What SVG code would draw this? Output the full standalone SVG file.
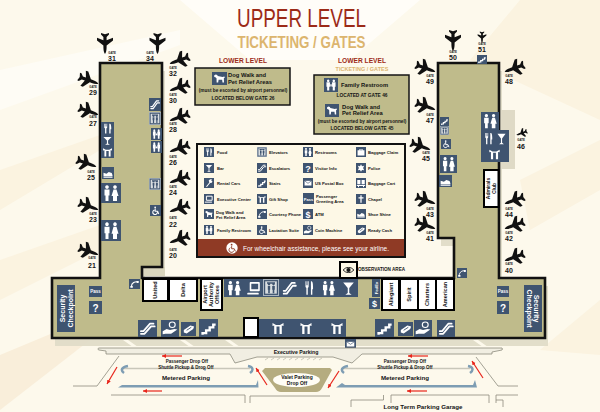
<svg xmlns="http://www.w3.org/2000/svg" width="600" height="412" viewBox="0 0 600 412">
<style>
text{font-family:"Liberation Sans",Arial,sans-serif;font-weight:700;fill:#141414}
.gl{font-size:2.8px;text-anchor:middle}
.gn{font-size:7px;text-anchor:middle}
.lg{font-size:4.2px}
.c{text-anchor:middle}
.air{font-size:5.6px;text-anchor:middle}
.sec{font-size:7px;fill:#fff;text-anchor:middle}
.park{font-size:4.5px;text-anchor:middle}
.met{font-size:6.2px;text-anchor:middle}
.ll{font-size:7.5px;fill:#9c2a17;text-anchor:middle}
.box{fill:#bfbb8b;stroke:#141414;stroke-width:1.5}
.wb{fill:#fff;stroke:#000;stroke-width:2}
.blue{fill:#3f5470}
.road{fill:none;stroke:#8d8b7d;stroke-width:.8}
.red{stroke:#e8261c;stroke-width:1.2;fill:none;marker-end:url(#ah)}
.w{fill:#fff}
.ws{fill:none;stroke:#fff;stroke-width:1.6;stroke-linejoin:round;stroke-linecap:round}
</style>
<defs>
<marker id="ah" markerWidth="5" markerHeight="5" refX="4" refY="2" orient="auto" markerUnits="userSpaceOnUse"><path d="M0,0L4,2L0,4Z" fill="#e8261c"/></marker>
<g id="plane"><path d="M0,11C-1.1,9.5-1.6,7-1.6,4.5L-1.6,2.5L-8,-2.6L-8,-5.2L-1.6,-2.8L-1.6,-6L-4,-8.4L-4,-10L0,-8.8L4,-10L4,-8.4L1.6,-6L1.6,-2.8L8,-5.2L8,-2.6L1.6,2.5L1.6,4.5C1.6,7 1.1,9.5 0,11Z" fill="#111"/></g>
<symbol id="food" viewBox="0 0 16 16" preserveAspectRatio="none"><rect width="16" height="16" class="blue"/><path class="w" d="M4,2h.8v3.5h.6V2h.8v3.5h.6V2h.8v5l-1,1v6h-1.6V8l-1-1zM11,2c1,0 1.6,2 1.6,5v2h-.8v5H10.2V2z"/></symbol>
<symbol id="bar" viewBox="0 0 16 16" preserveAspectRatio="none"><rect width="16" height="16" class="blue"/><path class="w" d="M3,3H13L8.7,8V12.5L11,14H5L7.3,12.5V8Z"/></symbol>
<symbol id="gift" viewBox="0 0 16 16" preserveAspectRatio="none"><rect width="16" height="16" class="blue"/><path class="w" d="M2.5,3L6,5H10L13.5,3V6L11.8,5.6V14H9.5V6.5H6.5V14H4.2V5.6L2.5,6Z"/></symbol>
<symbol id="esc" viewBox="0 0 16 16" preserveAspectRatio="none"><rect width="16" height="16" class="blue"/><path class="ws" d="M2.5,13H5.5L11,6H14M2.5,10.5H4.5L10,3.5H13"/></symbol>
<symbol id="stairs" viewBox="0 0 16 16" preserveAspectRatio="none"><rect width="16" height="16" class="blue"/><path class="w" d="M2,14V11.5H5V9H8V6.5H11V4H14V6H13V8.5H10V11H7V13.5H4V14Z"/></symbol>
<symbol id="elev" viewBox="0 0 16 16" preserveAspectRatio="none"><rect width="16" height="16" fill="#a9b4bf"/><rect x="1" y="1" width="14" height="14" class="blue"/><rect x="2.2" y="2.2" width="11.6" height="11.6" fill="#d8dde0"/><path class="blue" d="M4,3h8v1.5H4zM6,6a1.2,1.2 0 1 1 .01,0zM4.8,6.5h2.4v3.5H6.8v3.5H5.2V10H4.8zM10.5,6a1.2,1.2 0 1 1 .01,0zM9.2,6.5h2.6v3.5h-.5v3.5H9.7V10h-.5z"/></symbol>
<symbol id="rr" viewBox="0 0 20 20" preserveAspectRatio="none"><rect width="20" height="20" class="blue"/><path class="w" d="M6,2.2a1.8,1.8 0 1 1-.01,0zM3.5,6.5h5v6h-1V18h-3V12.5h-1zM14,2.2a1.8,1.8 0 1 1-.01,0zM12.5,6.5h3l2,6.5h-1.5v5h-4v-5h-1.5z"/></symbol>
<symbol id="fam" viewBox="0 0 20 20" preserveAspectRatio="none"><rect width="20" height="20" class="blue"/><path class="w" d="M6,2.2a1.8,1.8 0 1 1-.01,0zM3.5,6h5v6.5h-1V18h-3V12.5h-1zM14,2.2a1.8,1.8 0 1 1-.01,0zM11.5,6h5v6.5h-1V18h-3V12.5h-1zM9,9h2v3h-2z"/></symbol>
<symbol id="dog" viewBox="0 0 20 20" preserveAspectRatio="none"><rect width="20" height="20" class="blue"/><path class="w" d="M3,5L5,4L7,4.5L7.6,6L14,7.5L16.5,7L17,9L15.8,9.5L16,16H14L13.5,12H8.8L8.2,16H6.2L6,9.5L4.6,8L3,7.5Z"/></symbol>
<symbol id="wheel" viewBox="0 0 16 16" preserveAspectRatio="none"><rect width="16" height="16" class="blue"/><circle cx="7.5" cy="3.4" r="1.3" class="w"/><path class="ws" d="M7.5,5.5V9H11L12.5,12.5M5.8,7.6a3.3,3.3 0 1 0 4.7,3.8" stroke-width="1.2"/></symbol>
<symbol id="wheelw" viewBox="0 0 16 16"><circle cx="8" cy="8" r="7.6" fill="#fff"/><circle cx="7.5" cy="3.6" r="1.2" fill="#8f3a25"/><path fill="none" stroke="#8f3a25" stroke-width="1.2" d="M7.5,5.5V9H11L12.5,12.5M5.8,7.6a3.3,3.3 0 1 0 4.7,3.8"/></symbol>
<symbol id="shoe" viewBox="0 0 16 16" preserveAspectRatio="none"><rect width="16" height="16" class="blue"/><path class="w" d="M2,10V7.5L6,9L9,6.5L13,8L14,11V12.5H2ZM2,13.5H14V14.5H2Z"/></symbol>
<symbol id="phone" viewBox="0 0 16 16" preserveAspectRatio="none"><rect width="16" height="16" class="blue"/><path class="ws" d="M3.5,12C3.5,6 9,3.5 13,4.5" stroke-width="2.2"/><path class="w" d="M2,11h3.5v3H2zM11,3h3v3.5h-3z"/></symbol>
<symbol id="cash" viewBox="0 0 16 16" preserveAspectRatio="none"><rect width="16" height="16" class="blue"/><path class="w" d="M3,9L10,4L14,5L13,8L6,13L3,12Z"/><path fill="none" stroke="#3f5470" d="M6,9.5L11,6"/></symbol>
<symbol id="coin" viewBox="0 0 16 16" preserveAspectRatio="none"><rect width="16" height="16" class="blue"/><circle cx="10" cy="4.5" r="2.6" fill="none" stroke="#fff"/><path class="w" d="M1.5,10.5L5,8.5L8,9.5L12,8.5L14.5,9L9,13H4L1.5,13.5Z"/></symbol>
<symbol id="car" viewBox="0 0 16 16" preserveAspectRatio="none"><rect width="16" height="16" class="blue"/><path class="w" d="M3,14L8.5,7L7.5,4L10,2L13,2.5L11.5,4.5L13.5,5L12.5,7.5L9.8,8L5,14Z"/></symbol>
<symbol id="post" viewBox="0 0 16 16" preserveAspectRatio="none"><rect width="16" height="16" class="blue"/><rect x="2.5" y="4.5" width="11" height="7.5" class="w"/><path d="M2.5,4.5L8,8.5L13.5,4.5" fill="none" stroke="#3f5470"/></symbol>
<symbol id="bag" viewBox="0 0 16 16" preserveAspectRatio="none"><rect width="16" height="16" class="blue"/><path class="w" d="M2.5,5H5.5V3H10.5V5H13.5V13.5H2.5ZM6.5,4V5H9.5V4Z"/></symbol>
<symbol id="police" viewBox="0 0 16 16" preserveAspectRatio="none"><rect width="16" height="16" class="blue"/><path class="w" d="M8,2L9.6,5L13,4.5L11.4,8L13,11.5L9.6,11L8,14L6.4,11L3,11.5L4.6,8L3,4.5L6.4,5Z"/></symbol>
<symbol id="cart" viewBox="0 0 16 16" preserveAspectRatio="none"><rect width="16" height="16" class="blue"/><path class="w" d="M2,3H7V10H2ZM9,3H14V10H9Z"/><path class="ws" d="M2,12H14M4,14V12M12,14V12" stroke-width="1"/></symbol>
<symbol id="chapel" viewBox="0 0 16 16" preserveAspectRatio="none"><rect width="16" height="16" class="blue"/><path class="w" d="M7,2H9V5H12V7H9V14H7V7H4V5H7Z"/></symbol>
<symbol id="comp" viewBox="0 0 16 16" preserveAspectRatio="none"><rect width="16" height="16" class="blue"/><path class="ws" d="M4.5,3.5H13V10H4.5ZM2,13H12" stroke-width="1.2"/></symbol>
<symbol id="eye" viewBox="0 0 16 16"><path d="M1,8C4,3.5 12,3.5 15,8C12,12.5 4,12.5 1,8Z" fill="none" stroke="#111" stroke-width="1.2"/><circle cx="8" cy="8" r="2.8" fill="#111"/></symbol>
</defs>

<g id="background">
<rect width="600" height="412" fill="#fdf9ec"/>
<path d="M600,0L600,120L470,60L520,0Z" fill="#fbf3e0"/>
<path d="M0,70L180,30L180,45L0,110Z" fill="#fefcf5"/>
<path d="M0,170L100,135V150L0,210Z" fill="#fbf3e0"/>
<path d="M0,260L100,225V250L0,300Z" fill="#fbf3e0"/>
<path d="M0,355L60,330L90,340L0,410Z" fill="#f9eeda"/>
<path d="M180,0H420L350,60H250Z" fill="#fffdf8"/>
<path d="M600,140L520,180L530,230L600,190Z" fill="#fbf3e0"/>
<path d="M600,300L540,350L600,355Z" fill="#fbf3e0"/>
</g>

<g id="title">
<text x="301.500" y="27" class="c" textLength="129" lengthAdjust="spacingAndGlyphs" style="font-weight:400;font-size:26px;fill:#9c2a17">UPPER LEVEL</text>
<text x="301.500" y="48" class="c" textLength="128" lengthAdjust="spacingAndGlyphs" style="font-size:17px;fill:#dcb56e">TICKETING / GATES</text>
</g>

<g id="terminal">
<path transform="translate(3,8)" d="M100,63H162V267H142V278H454V238H438V63H499V278H545V338H52V278H100Z" fill="#dfdac6" opacity=".9"/>
<path d="M143,267H165V276H143Z" fill="#d9d5bd"/>
<path d="M499,110H515V169H499Z" fill="#dfdac6"/>
<path d="M100,63H162V267H142V278H454V238H438V63H499V278H545V338H52V278H100Z" fill="#bfbb8b" stroke="#111" stroke-width="2.6"/>
<path d="M123,340H128L138,347H133ZM180,340H185L195,347H190ZM225,340H230L240,347H235ZM352,340H356L350,347ZM473,340H478L488,347H483Z" fill="#fdf9ec"/>
</g>

<g id="observation-area">
<rect x="340" y="262" width="17" height="16" fill="#fdf8e6" stroke="#000" stroke-width="2"/>
<use href="#eye" x="342" y="264" width="13" height="12"/>
<text x="358" y="271" style="font-size:4.6px">OBSERVATION AREA</text>
</g>

<g id="legend">
<rect x="197" y="144" width="208" height="113" fill="#fdf8e6" stroke="#111" stroke-width="2"/>
<rect x="198" y="239" width="206" height="17" fill="#8f3a25"/>
<use href="#wheelw" x="226" y="242" width="12" height="12"/>
<text x="243" y="250.500" style="font-size:7px;fill:#fff;font-weight:400" textLength="146" lengthAdjust="spacingAndGlyphs">For wheelchair assistance, please see your airline.</text>
<use href="#food" x="204" y="147" width="10" height="10"/><text x="217" y="154" class="lg">Food</text>
<use href="#bar" x="204" y="163" width="10" height="10"/><text x="217" y="170" class="lg">Bar</text>
<use href="#car" x="204" y="178" width="10" height="10"/><text x="217" y="185" class="lg">Rental Cars</text>
<use href="#comp" x="204" y="194" width="10" height="10"/><text x="217" y="201" class="lg">Executive Center</text>
<use href="#dog" x="204" y="209" width="10" height="10"/><text x="216" y="213.500" class="lg">Dog Walk and</text><text x="216" y="218.500" class="lg">Pet Relief Area</text>
<use href="#fam" x="204" y="225" width="10" height="10"/><text x="217" y="232" class="lg">Family Restroom</text>
<use href="#elev" x="257" y="147" width="10" height="10"/><text x="269" y="154" class="lg">Elevators</text>
<use href="#esc" x="257" y="163" width="10" height="10"/><text x="269" y="170" class="lg">Escalators</text>
<use href="#stairs" x="257" y="178" width="10" height="10"/><text x="269" y="185" class="lg">Stairs</text>
<use href="#gift" x="257" y="194" width="10" height="10"/><text x="269" y="201" class="lg">Gift Shop</text>
<use href="#phone" x="257" y="209" width="10" height="10"/><text x="269" y="216" class="lg">Courtesy Phone</text>
<use href="#wheel" x="257" y="225" width="10" height="10"/><text x="269" y="232" class="lg">Lactation Suite</text>
<use href="#rr" x="303" y="147" width="10" height="10"/><text x="315" y="154" class="lg">Restrooms</text>
<rect x="303" y="163" width="10" height="10" class="blue"/><text x="308" y="171.500" class="c" style="font-size:9px;fill:#fff">?</text><text x="315" y="170" class="lg">Visitor Info</text>
<use href="#post" x="303" y="178" width="10" height="10"/><text x="315" y="185" class="lg">US Postal Box</text>
<rect x="303" y="193" width="11" height="11" class="blue"/><text x="308.500" y="200.500" class="c" style="font-size:4px;fill:#fff">Pass</text><text x="316" y="197.500" class="lg">Passenger</text><text x="316" y="202.500" class="lg">Greeting Area</text>
<rect x="303" y="209" width="10" height="10" class="blue"/><text x="308" y="217.500" class="c" style="font-size:9px;fill:#fff">$</text><text x="315" y="216" class="lg">ATM</text>
<use href="#coin" x="303" y="225" width="10" height="10"/><text x="315" y="232" class="lg">Coin Machine</text>
<use href="#bag" x="356" y="147" width="10" height="10"/><text x="368" y="154" class="lg">Baggage Claim</text>
<use href="#police" x="356" y="163" width="10" height="10"/><text x="368" y="170" class="lg">Police</text>
<use href="#cart" x="356" y="178" width="10" height="10"/><text x="368" y="185" class="lg">Baggage Cart</text>
<use href="#chapel" x="356" y="194" width="10" height="10"/><text x="368" y="201" class="lg">Chapel</text>
<use href="#shoe" x="356" y="209" width="10" height="10"/><text x="368" y="216" class="lg">Shoe Shine</text>
<use href="#cash" x="356" y="225" width="10" height="10"/><text x="368" y="232" class="lg">Ready Cash</text>
</g>

<g id="lower-level-left">
<text x="243" y="63" class="ll" textLength="48" lengthAdjust="spacingAndGlyphs">LOWER LEVEL</text>
<rect x="195" y="68" width="95" height="37" class="box"/>
<use href="#dog" x="212" y="72" width="15" height="13"/>
<text x="228" y="77" style="font-size:5.800px">Dog Walk and</text>
<text x="228" y="84" style="font-size:5.800px">Pet Relief Areas</text>
<text x="243" y="91.500" class="c" style="font-size:4.700px">(must be escorted by airport personnel)</text>
<text x="243" y="100" class="c" style="font-size:4.800px">LOCATED BELOW GATE 26</text>
</g>

<g id="lower-level-right">
<text x="362" y="63" class="ll" textLength="48" lengthAdjust="spacingAndGlyphs">LOWER LEVEL</text>
<text x="362" y="71" class="c" style="font-size:5.500px;fill:#dcb56e">TICKETING / GATES</text>
<rect x="314" y="75" width="95" height="59" class="box"/>
<use href="#fam" x="324" y="78" width="14" height="14"/>
<text x="341" y="87" style="font-size:5.800px">Family Restroom</text>
<text x="362" y="97" class="c" style="font-size:4.800px">LOCATED AT GATE 46</text>
<use href="#dog" x="325" y="104" width="14" height="13"/>
<text x="342" y="109" style="font-size:5.800px">Dog Walk and</text>
<text x="342" y="115" style="font-size:5.800px">Pet Relief Area</text>
<text x="362" y="123" class="c" style="font-size:4.700px">(must be escorted by airport personnel)</text>
<text x="362" y="130" class="c" style="font-size:4.800px">LOCATED BELOW GATE 45</text>
</g>

<g id="left-concourse-icons">
<use href="#esc" x="149" y="98" width="12" height="13"/>
<use href="#elev" x="149" y="112" width="12" height="13"/>
<use href="#fam" x="151" y="128" width="11" height="12"/>
<use href="#fam" x="151" y="141" width="11" height="12"/>
<use href="#food" x="101" y="122" width="13" height="13"/>
<use href="#bar" x="101" y="135" width="13" height="11"/>
<use href="#gift" x="101" y="146" width="13" height="12"/>
<use href="#shoe" x="102" y="167" width="12" height="12"/>
<use href="#rr" x="101" y="183" width="20" height="20"/>
<use href="#rr" x="101" y="220" width="20" height="21"/>
<use href="#elev" x="149" y="178" width="12" height="12"/>
<use href="#wheel" x="150" y="205" width="11" height="11"/>
</g>

<g id="right-concourse-icons">
<use href="#stairs" x="477" y="55" width="10" height="9"/>
<use href="#stairs" x="440" y="117" width="9" height="9"/>
<use href="#elev" x="440" y="126" width="9" height="9"/>
<use href="#wheel" x="441" y="139" width="10" height="10"/>
<use href="#rr" x="440" y="155" width="17" height="18"/>
<use href="#shoe" x="439" y="175" width="13" height="12"/>
<use href="#rr" x="481" y="112" width="18" height="18"/>
<rect x="481" y="130" width="28" height="32" class="blue"/>
<use href="#food" x="482" y="131" width="13" height="15"/>
<use href="#bar" x="495" y="131" width="13" height="15"/>
<use href="#gift" x="487" y="147" width="15" height="14"/>
<use href="#phone" x="457" y="268" width="10" height="10"/>
</g>

<g id="admirals-club">
<rect x="484" y="170" width="14.500" height="37" class="wb"/>
<text transform="translate(490 188.500) rotate(-90)" class="c" style="font-size:5px">Admirals</text>
<text transform="translate(496 188.500) rotate(-90)" class="c" style="font-size:5px">Club</text>
</g>

<g id="united"><rect x="143" y="279" width="25" height="22" class="wb"/><text transform="translate(157 290) rotate(-90)" class="air">United</text></g>
<g id="delta"><rect x="169" y="279" width="28" height="22" class="wb"/><text transform="translate(185 290) rotate(-90)" class="air">Delta</text></g>
<g id="airport-authority"><rect x="201" y="279" width="21" height="31" class="wb"/>
<text transform="translate(207 294.500) rotate(-90)" class="air">Airport</text><text transform="translate(213 294.500) rotate(-90)" class="air">Authority</text><text transform="translate(219 294.500) rotate(-90)" class="air">Offices</text></g>
<g id="allegiant"><rect x="382" y="279" width="17" height="31" class="wb"/><text transform="translate(392.500 294.500) rotate(-90)" class="air">Allegiant</text></g>
<g id="spirit"><rect x="400" y="279" width="18" height="31" class="wb"/><text transform="translate(411 294.500) rotate(-90)" class="air">Spirit</text></g>
<g id="charters"><rect x="418" y="279" width="18" height="31" class="wb"/><text transform="translate(429 294.500) rotate(-90)" class="air">Charters</text></g>
<g id="american"><rect x="436" y="279" width="18" height="31" class="wb"/><text transform="translate(447 294.500) rotate(-90)" class="air">American</text></g>

<g id="security-left"><rect x="57" y="285" width="18" height="47" class="blue"/>
<text transform="translate(65 308.500) rotate(-90)" class="sec">Security</text><text transform="translate(72.500 308.500) rotate(-90)" class="sec">Checkpoint</text></g>
<g id="security-right"><rect x="524" y="285" width="18" height="47" class="blue"/>
<text transform="translate(534 308.500) rotate(90)" class="sec">Security</text><text transform="translate(526.500 308.500) rotate(90)" class="sec">Checkpoint</text></g>

<g id="bottom-icons">
<rect x="89" y="286" width="13" height="11" class="blue"/><text x="95.500" y="293" class="c" style="font-size:4.500px;fill:#fff">Pass</text>
<rect x="89" y="301" width="13" height="13" class="blue"/><text x="95.500" y="311.500" class="c" style="font-size:10px;fill:#fff">?</text>
<rect x="497" y="286" width="12" height="11" class="blue"/><text x="503" y="293" class="c" style="font-size:4.500px;fill:#fff">Pass</text>
<rect x="497" y="301" width="12" height="13" class="blue"/><text x="503" y="311.500" class="c" style="font-size:10px;fill:#fff">?</text>
<use href="#phone" x="129" y="279" width="11" height="10"/>
<use href="#esc" x="138" y="320" width="19" height="17"/>
<use href="#coin" x="161" y="320" width="18" height="17"/>
<use href="#cash" x="181" y="322" width="15" height="14"/>
<use href="#stairs" x="199" y="319" width="19" height="18"/>
<rect x="224" y="279" width="134" height="18" class="blue"/>
<use href="#rr" x="225" y="279" width="18" height="18"/>
<use href="#comp" x="246" y="279" width="16" height="18"/>
<use href="#elev" x="263" y="279" width="16" height="17"/>
<use href="#esc" x="281" y="279" width="17" height="18"/>
<use href="#food" x="302" y="279" width="14" height="18"/>
<use href="#rr" x="320" y="279" width="17" height="18"/>
<use href="#bar" x="340" y="279" width="17" height="18"/>
<rect x="372" y="279" width="8" height="18" class="blue"/><text transform="translate(377.500 288) rotate(-90)" class="c" style="font-size:4.200px;fill:#fff">FedEx</text>
<rect x="369" y="298" width="11" height="11" class="blue"/><text x="374.500" y="307" class="c" style="font-size:9px;fill:#fff">$</text>
<rect x="259" y="319" width="87" height="18" class="blue"/>
<use href="#gift" x="270" y="320" width="16" height="16"/>
<use href="#gift" x="298" y="320" width="16" height="16"/>
<use href="#gift" x="329" y="320" width="16" height="16"/>
<rect x="244" y="318" width="14" height="19" class="wb"/>
<use href="#stairs" x="375" y="319" width="19" height="18"/>
<use href="#cash" x="398" y="322" width="15" height="14"/>
<use href="#coin" x="414" y="320" width="18" height="17"/>
<use href="#esc" x="437" y="320" width="18" height="17"/>
<use href="#post" x="345" y="339" width="11" height="10"/>
</g>

<g id="gates">
<use href="#plane" transform="translate(105 43)"/><text x="112" y="54" class="gl">GATE</text><text x="112" y="61" class="gn">31</text>
<use href="#plane" transform="translate(157.500 43)"/><text x="150" y="54" class="gl">GATE</text><text x="150" y="61" class="gn">34</text>
<use href="#plane" transform="translate(180 60) rotate(70)"/><text x="173" y="69" class="gl">GATE</text><text x="173" y="76" class="gn">32</text>
<use href="#plane" transform="translate(180 87) rotate(70)"/><text x="173" y="96" class="gl">GATE</text><text x="173" y="103" class="gn">30</text>
<use href="#plane" transform="translate(180 117) rotate(70)"/><text x="173" y="125" class="gl">GATE</text><text x="173" y="132" class="gn">28</text>
<use href="#plane" transform="translate(180 148) rotate(70)"/><text x="173" y="158" class="gl">GATE</text><text x="173" y="165" class="gn">26</text>
<use href="#plane" transform="translate(180 179) rotate(70)"/><text x="173" y="188" class="gl">GATE</text><text x="173" y="195" class="gn">24</text>
<use href="#plane" transform="translate(180 208) rotate(70)"/><text x="173" y="219" class="gl">GATE</text><text x="173" y="227" class="gn">22</text>
<use href="#plane" transform="translate(180 239) rotate(70)"/><text x="173" y="251" class="gl">GATE</text><text x="173" y="258" class="gn">20</text>
<use href="#plane" transform="translate(88 80) rotate(-70)"/><text x="93" y="88" class="gl">GATE</text><text x="93" y="95" class="gn">29</text>
<use href="#plane" transform="translate(88 111) rotate(-70)"/><text x="93" y="118" class="gl">GATE</text><text x="93" y="126" class="gn">27</text>
<use href="#plane" transform="translate(86 163) rotate(-70)"/><text x="91" y="173" class="gl">GATE</text><text x="91" y="180" class="gn">25</text>
<use href="#plane" transform="translate(88 206) rotate(-70)"/><text x="93" y="215" class="gl">GATE</text><text x="93" y="222" class="gn">23</text>
<use href="#plane" transform="translate(88 251) rotate(-70)"/><text x="92" y="259" class="gl">GATE</text><text x="92" y="268" class="gn">21</text>
<use href="#plane" transform="translate(453 40)"/><text x="453" y="53" class="gl">GATE</text><text x="453" y="60" class="gn">50</text>
<use href="#plane" transform="translate(482 37) scale(.55)"/><text x="482" y="45" class="gl">GATE</text><text x="482" y="52" class="gn">51</text>
<use href="#plane" transform="translate(425 68) rotate(-70)"/><text x="430" y="77" class="gl">GATE</text><text x="430" y="84" class="gn">49</text>
<use href="#plane" transform="translate(425 106) rotate(-70)"/><text x="430" y="116" class="gl">GATE</text><text x="430" y="123" class="gn">47</text>
<use href="#plane" transform="translate(420 146) rotate(-70)"/><text x="426" y="154" class="gl">GATE</text><text x="426" y="161" class="gn">45</text>
<use href="#plane" transform="translate(425 200) rotate(-70)"/><text x="430" y="210" class="gl">GATE</text><text x="430" y="217" class="gn">43</text>
<use href="#plane" transform="translate(425 225) rotate(-70)"/><text x="430" y="234" class="gl">GATE</text><text x="430" y="241" class="gn">41</text>
<use href="#plane" transform="translate(515 68) rotate(70)"/><text x="509" y="77" class="gl">GATE</text><text x="509" y="84" class="gn">48</text>
<use href="#plane" transform="translate(522 133) rotate(70) scale(.55)"/><text x="521" y="141" class="gl">GATE</text><text x="521" y="149" class="gn">46</text>
<use href="#plane" transform="translate(515 200) rotate(70)"/><text x="509" y="210" class="gl">GATE</text><text x="509" y="217" class="gn">44</text>
<use href="#plane" transform="translate(515 225) rotate(70)"/><text x="509" y="234" class="gl">GATE</text><text x="509" y="241" class="gn">42</text>
<use href="#plane" transform="translate(515 257) rotate(70)"/><text x="509" y="265" class="gl">GATE</text><text x="509" y="273" class="gn">40</text>
</g>

<g id="roadways">
<path d="M99,348H502A1.500,1.500 0 0 1 502,350L492,352V354H362L352,363L333,357H280L257,357L235,363L230,354H106V351L99,350A1,1 0 0 1 99,348Z" fill="#f1eee2" stroke="#8d8b7d" stroke-width=".8"/>
<path class="road" d="M119,356L97,386H73M476,357L498,386H518"/>
<path d="M268,358l-3,2M274,358l-3,2M280,358l-3,2M286,358l-3,2M292,358l-3,2M298,358l-3,2M304,358l-3,2M310,358l-3,2M316,358l-3,2M322,358l-3,2" stroke="#aaa89a" stroke-width=".6"/>
<path d="M123,368.500H250M343,368.500H470" stroke="#c9c7ba" stroke-width="1.500"/>
<path d="M118,387.500L122,385H256L258,380L258.500,387.500ZM336,387.500L342,383L345,385H473L475,380L477,387.500Z" fill="#7e9db3"/>
<path d="M128,366C122,367 120,370 124,373M248,366C253,367 254,370 250,373M348,366C342,367 340,370 344,373M468,366C473,367 474,370 470,373" fill="none" stroke="#7e9db3" stroke-width="2.500"/>
<path d="M205,369v1.500" stroke="#7e9db3" stroke-width="2"/>
<path class="red" d="M182,356H162"/>
<path class="red" d="M117,367L107,384"/>
<path class="red" d="M267,385L256,368"/>
<path class="red" d="M162,391H143"/>
<path class="red" d="M428,356H408"/>
<path class="red" d="M339,371L328,388"/>
<path class="red" d="M483,378L472,361"/>
<path class="red" d="M427,391H407"/>
<path class="road" d="M111,395H245V403M250,403V396H330M351,407V400H383.500V395M391,403V395H489V403M496,403V395H518M496,400H503V407"/>
</g>

<g id="valet">
<path d="M265,368H330L332,370L322,388Q320,392 316,392H281Q277,392 275,388L262,371Z" fill="#b5ac80"/>
<ellipse cx="296.500" cy="380" rx="23.500" ry="7" fill="#fffdf5"/>
<text x="297" y="379" class="c" style="font-size:5px">Valet Parking</text>
<text x="297" y="385" class="c" style="font-size:5px">Drop Off</text>
</g>

<g id="road-labels">
<text x="296" y="354" class="park" style="font-size:5.200px">Executive Parking</text>
<text x="187" y="363" class="park">Passenger Drop Off</text>
<text x="186" y="369" class="park">Shuttle Pickup &amp; Drop Off</text>
<text x="186" y="380" class="met">Metered Parking</text>
<text x="405" y="363" class="park">Passenger Drop Off</text>
<text x="405" y="369" class="park">Shuttle Pickup &amp; Drop Off</text>
<text x="405" y="380" class="met">Metered Parking</text>
<text x="423" y="409" class="met">Long Term Parking Garage</text>
</g>
</svg>
